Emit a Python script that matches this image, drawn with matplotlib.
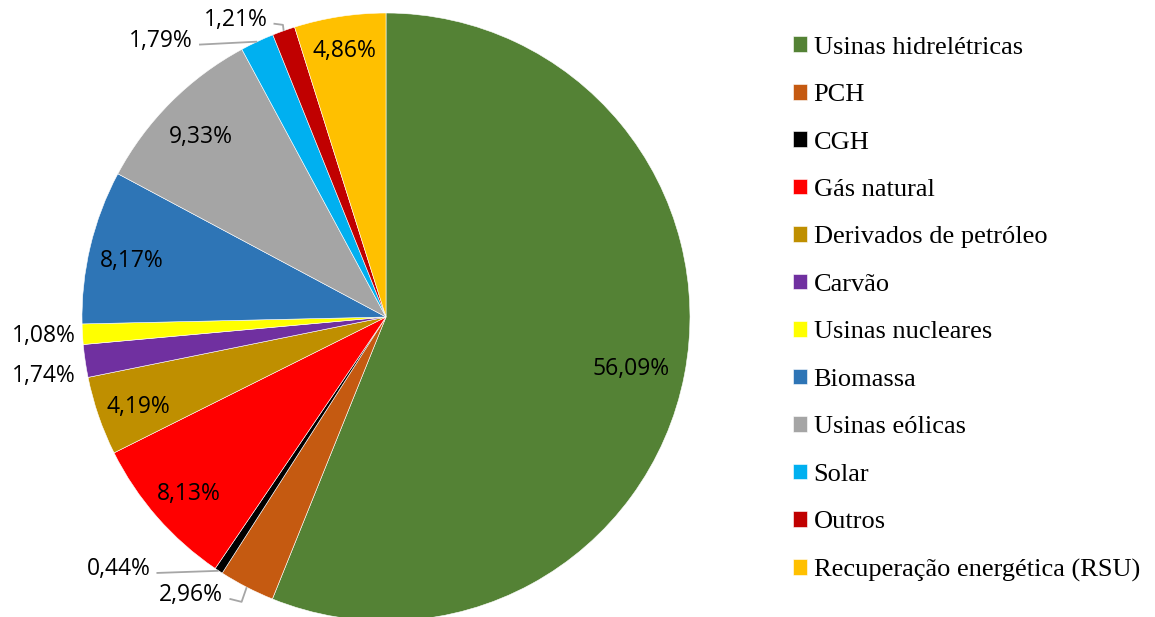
import matplotlib.pyplot as plt
import numpy as np

# Data
categorias = ["Usinas hidrelétricas", "PCH", "CGH", "Gás natural",
              "Derivados de petróleo", "Carvão", "Usinas nucleares",
              "Biomassa", "Usinas eólicas", "Solar", "Outros",
              "Recuperação energética (RSU)"]
valores = [56.09, 2.96, 0.44, 8.13, 4.19, 1.74, 1.08, 8.17, 9.33, 1.79, 1.21, 4.86]
cores = ["#548235", "#C55A11", "#000000", "#FF0000", "#BF8F00", "#7030A0",
         "#FFFF00", "#2E75B6", "#A5A5A5", "#00B0F0", "#C00000", "#FFC000"]

# Label layout for the small slices (in units of the pie radius)
FORA = {
    "PCH": dict(texto=(-0.535, -0.915), cotovelo=(-0.475, -0.937)),
    "CGH": dict(texto=(-0.775, -0.83), cotovelo=None),
    "Usinas nucleares": dict(texto=(-1.125, -0.062), cotovelo=None, sem_linha=True),
    "Carvão": dict(texto=(-1.125, -0.194), cotovelo=None, sem_linha=True),
    "Solar": dict(texto=(-0.635, 0.908), cotovelo=None),
    "Outros": dict(texto=(-0.39, 0.977), cotovelo=(-0.339, 0.961)),
}
# radius of the inside labels
RAIO_TEXTO = {"Usinas hidrelétricas": 0.82, "Recuperação energética (RSU)": 0.9}
RAIO_PADRAO = 0.86
COR_LINHA = "#a6a6a6"

W, H = 1155, 617
fig = plt.figure(figsize=(W / 100, H / 100), dpi=100)

# pie axes: centre (386, 317) px, radius 304 px
cx, cy, r = 386, 317, 304
ax = fig.add_axes([(cx - r) / W, (H - cy - r) / H, 2 * r / W, 2 * r / H])

wedges, _ = ax.pie(valores, colors=cores, startangle=90, counterclock=False,
                   radius=1, center=(0, 0), frame=True,
                   wedgeprops=dict(edgecolor="white", linewidth=0.4))
ax.set_xlim(-1, 1)
ax.set_ylim(-1, 1)
ax.set_aspect("equal")
ax.axis("off")

fonte_rot = dict(family=["Open Sans", "DejaVu Sans"], fontsize=16.5, color="black")

for w, nome, v in zip(wedges, categorias, valores):
    ang = np.deg2rad((w.theta1 + w.theta2) / 2)
    txt = f"{v:.2f}%".replace(".", ",")
    if nome in FORA:
        cfg = FORA[nome]
        tx, ty = cfg["texto"]
        if cfg.get("sem_linha"):
            ax.text(tx, ty, txt, ha="center", va="center", clip_on=False, **fonte_rot)
            continue
        ax.text(tx, ty, txt, ha="right", va="center", clip_on=False, **fonte_rot)
        borda = (np.cos(ang), np.sin(ang))
        pts = [(tx + 0.02, ty - 0.012)]
        if cfg["cotovelo"] is not None:
            pts.append(cfg["cotovelo"])
        pts.append(borda)
        pts = np.array(pts)
        ax.plot(pts[:, 0], pts[:, 1], color=COR_LINHA, lw=1.3, clip_on=False,
                solid_capstyle="butt")
    else:
        rr = RAIO_TEXTO.get(nome, RAIO_PADRAO)
        ax.text(rr * np.cos(ang), rr * np.sin(ang) - 0.015, txt, ha="center",
                va="center", **fonte_rot)

# Legend
leg = fig.legend(wedges, categorias, loc="upper left",
                 bbox_to_anchor=(793 / W, 1 - 36.5 / H),
                 frameon=False,
                 prop=dict(family=["Liberation Serif", "DejaVu Serif"], size=19),
                 handlelength=0.53, handleheight=0.53, handletextpad=0.25,
                 labelspacing=0.96, borderaxespad=0, borderpad=0)

fig.savefig("out.png", dpi=100)
